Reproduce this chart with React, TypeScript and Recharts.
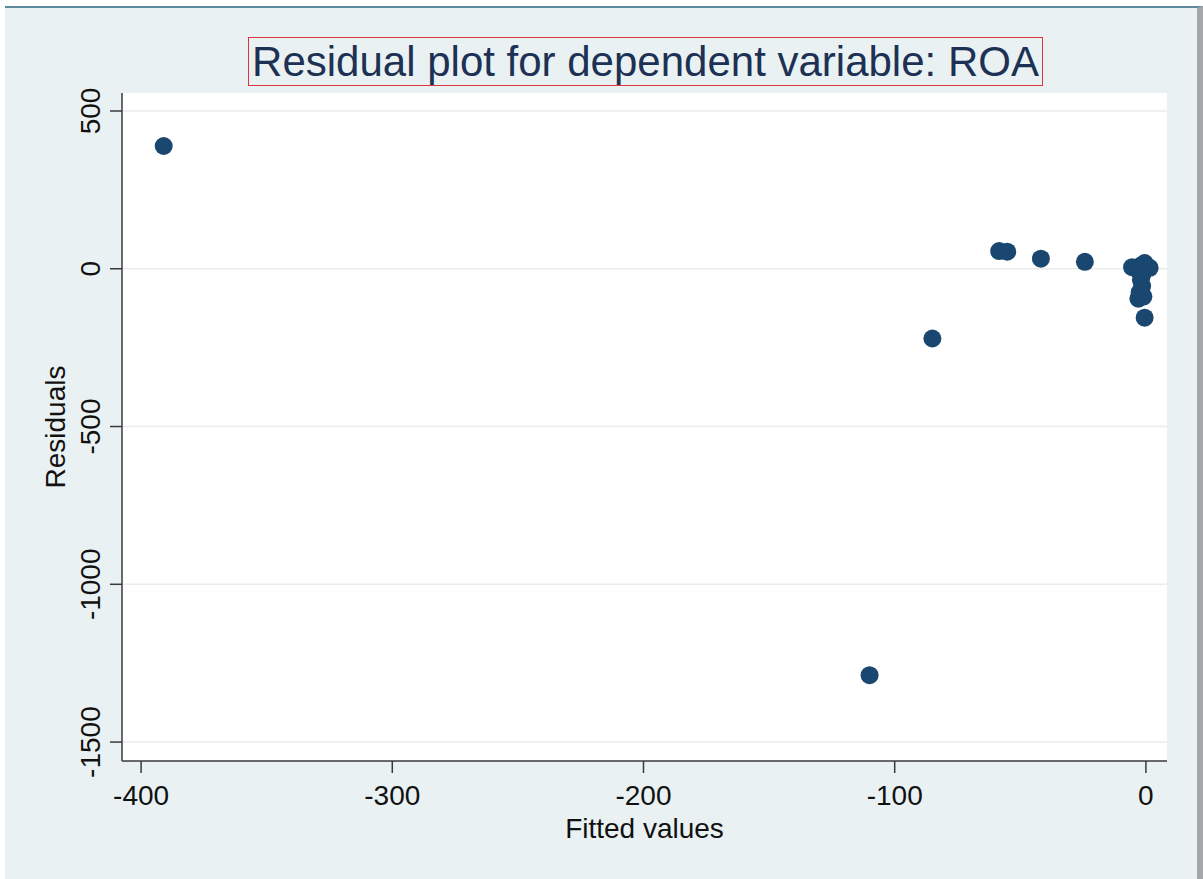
import React from "react";
import { ScatterChart, Scatter, XAxis, YAxis, CartesianGrid, Label } from "recharts";

const fittedValues = [-391, -110, -85, -58.4, -55.2, -41.8, -24.3, -5.5, -2, -0.5, 1.5, -3, -1.5, -2, -1.5, -2.5, -3, -1, -0.5];
const residuals = [389, -1288, -221, 56, 54, 32, 22, 5, 10, 18, 3, -5, -20, -35, -55, -75, -95, -88, -155];

const xTicks = [-400, -300, -200, -100, 0];
const yTicks = [-1500, -1000, -500, 0, 500];
const xDomain = [-407.6, 8.4];
const yDomain = [-1560, 557];

const points = fittedValues.map((x, i) => ({ x, y: residuals[i] }));

const FONT = "'Liberation Sans', Arial, sans-serif";
const TEXT = "#111";

const XTick = (props: any) => {
  const { x, y, payload } = props;
  return (
    <text x={x} y={y} dy={32} textAnchor="middle" fontSize={28} fontFamily={FONT} fill={TEXT}>
      {payload.value}
    </text>
  );
};

const YTick = (props: any) => {
  const { x, y, payload } = props;
  const cx = x - 10;
  return (
    <text x={cx} y={y} textAnchor="middle" fontSize={28} fontFamily={FONT} fill={TEXT} transform={`rotate(-90, ${cx}, ${y})`}>
      {payload.value}
    </text>
  );
};

const YLabel = (props: any) => {
  const vb = props.viewBox;
  const cx = vb.x + 23;
  const cy = vb.y + vb.height / 2;
  return (
    <text x={cx} y={cy} textAnchor="middle" fontSize={28} fontFamily={FONT} fill={TEXT} transform={`rotate(-90, ${cx}, ${cy})`}>
      Residuals
    </text>
  );
};

const XLabel = (props: any) => {
  const vb = props.viewBox;
  return (
    <text x={vb.x + vb.width / 2} y={vb.y + 77} textAnchor="middle" fontSize={28} fontFamily={FONT} fill={TEXT}>
      Fitted values
    </text>
  );
};

export default function App() {
  return (
    <div style={{ position: "absolute", left: 0, top: 0, width: 1203, height: 879, background: "#fff", overflow: "hidden" }}>
      <div
        style={{
          position: "absolute",
          left: 5,
          top: 6,
          width: 1192,
          height: 873,
          background: "#eaf1f3",
          borderTop: "2px solid #5d889d",
          borderRight: "6px solid #a3a7a9",
        }}
      />
      <div
        style={{
          position: "absolute",
          left: 248,
          top: 37,
          width: 793,
          height: 47,
          border: "1px solid #d9373f",
          fontFamily: FONT,
          fontSize: 42,
          lineHeight: "47px",
          color: "#1d3154",
          textAlign: "center",
          whiteSpace: "nowrap",
        }}
      >
        Residual plot for dependent variable: ROA
      </div>
      <div style={{ position: "absolute", left: 0, top: 0 }}>
        <ScatterChart width={1203} height={879} margin={{ top: 93, right: 36, bottom: 58, left: 42 }}>
          <CartesianGrid vertical={false} horizontal={true} stroke="#e9ecec" strokeWidth={1.5} fill="#ffffff" horizontalValues={yTicks} />
          <XAxis
            type="number"
            dataKey="x"
            domain={xDomain}
            ticks={xTicks}
            allowDataOverflow
            height={60}
            tickSize={12}
            tickMargin={0}
            stroke="#3a3a3a"
            strokeWidth={1.5}
            tick={<XTick />}
            interval={0}
          >
            <Label content={<XLabel />} />
          </XAxis>
          <YAxis
            type="number"
            dataKey="y"
            domain={yDomain}
            ticks={yTicks}
            allowDataOverflow
            width={80}
            tickSize={12}
            tickMargin={0}
            stroke="#3a3a3a"
            strokeWidth={1.5}
            tick={<YTick />}
            interval={0}
          >
            <Label content={<YLabel />} />
          </YAxis>
          <Scatter data={points} fill="#1a476f" isAnimationActive={false} shape={(p: any) => <circle cx={p.cx} cy={p.cy} r={9} fill="#1a476f" />} />
        </ScatterChart>
      </div>
    </div>
  );
}
